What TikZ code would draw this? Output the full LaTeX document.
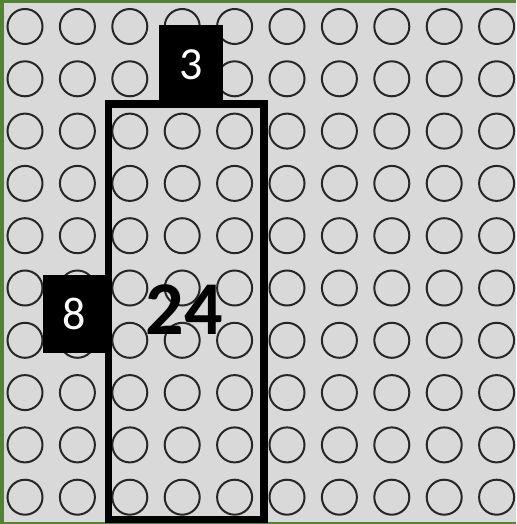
\documentclass[tikz,border=0pt]{standalone}
\usepackage{fontspec}
\setmainfont{Carlito}
\definecolor{bgGrey}{HTML}{D9D9D9}
\definecolor{frameGreen}{HTML}{548235}
\begin{document}
\begin{tikzpicture}[x=1pt,y=-1pt,
  dot/.style={draw=black!85,line width=2pt},
  lbl/.style={fill=black,text=white,inner sep=0pt,outer sep=0pt,font=\fontsize{46}{46}\selectfont},
]
\useasboundingbox (0,0) rectangle (516,524);
\fill[frameGreen] (0,0) rectangle (516,524);
\fill[bgGrey] (3.5,3.5) rectangle (516,521.5);
\foreach \i in {0,...,9}{
  \foreach \j in {0,...,9}{
    \draw[dot] ({25+52.4*\i},{26.5+52.3*\j}) circle (17.5);
  }
}
\node[draw=black,line width=7.5pt,outer sep=0pt,minimum width=155.5pt,minimum height=415.5pt,inner sep=0pt,anchor=north west] (area) at (108.5,104) {};
\node[lbl,minimum width=64pt,minimum height=79pt,anchor=north west] (top) at (159,25) {3};
\node[lbl,minimum width=63pt,minimum height=78pt,anchor=north west] (side) at (42.5,275) {8};
\node[font=\fontsize{76}{76}\selectfont\bfseries,inner sep=0pt] (prod) at (184,310) {24};
\end{tikzpicture}
\end{document}
